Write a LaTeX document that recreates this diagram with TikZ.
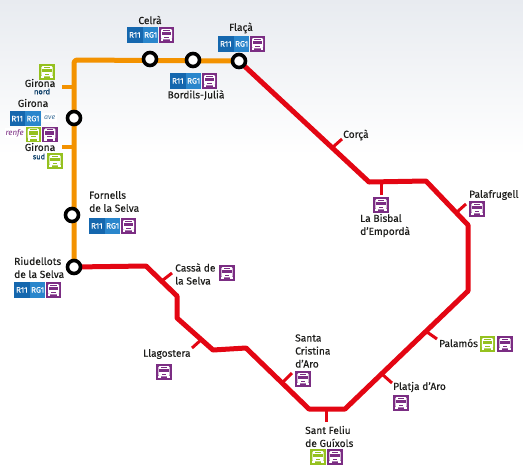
\documentclass[tikz,border=0pt]{standalone}
\usepackage{fontspec}
\setmainfont{Fira Sans}
\usetikzlibrary{calc}
\definecolor{linered}{HTML}{E30613}
\definecolor{lineorange}{HTML}{F39200}
\definecolor{busgreen}{HTML}{95C11F}
\definecolor{buspurple}{HTML}{7B2D83}
\definecolor{rblue}{HTML}{1567AE}
\definecolor{gblue}{HTML}{2A86CC}
\definecolor{topgrey}{HTML}{E8EBF0}
\definecolor{txt}{HTML}{1D1D1B}
\tikzset{
  x=1pt,y=-1pt,
  redline/.style={draw=linered,line width=5pt,line join=round},
  orangeline/.style={draw=lineorange,line width=5pt,line join=round},
  redtick/.style={draw=linered,line width=3pt},
  orangetick/.style={draw=lineorange,line width=3.6pt},
  station/.style={circle,draw=black,fill=white,line width=3.6pt,minimum size=13pt,inner sep=0pt},
  lab/.style={inner sep=0pt,anchor=west,font=\fontsize{10.2}{13}\selectfont\addfontfeature{FakeBold=0.3},text=txt},
  labc/.style={lab,anchor=center},
  small/.style={inner sep=0pt,font=\fontsize{7.5}{8}\selectfont\addfontfeature{FakeBold=0.6},text=txt},
  badge/.style={inner sep=0pt,minimum width=15.4pt,minimum height=15.4pt,anchor=north west,text=white,font=\fontsize{8}{8}\selectfont\addfontfeature{FakeBold=0.3}},
  r11badge/.style={badge,fill=rblue},
  rg1badge/.style={badge,fill=gblue},
}
% #1 name, #2 x, #3 y, #4 colour
\newcommand{\busicon}[4]{%
  \node[inner sep=0pt,minimum width=15.6pt,minimum height=15.6pt,anchor=north west,fill=#4] (#1) at (#2,#3) {};
  \fill[white,rounded corners=1.2pt] ($(#1.center)+(-5.6,-6)$) rectangle ($(#1.center)+(5.6,4.4)$);
  \fill[#4] ($(#1.center)+(-4.6,-3)$) rectangle ($(#1.center)+(4.6,0.4)$);
  \fill[#4] ($(#1.center)+(-3.2,-5)$) rectangle ($(#1.center)+(3.2,-4.2)$);
  \fill[#4] ($(#1.center)+(-2.4,1.8)$) rectangle ($(#1.center)+(2.4,3)$);
  \fill[white] ($(#1.center)+(-5.6,4)$) rectangle ($(#1.center)+(-3.2,6.2)$);
  \fill[white] ($(#1.center)+(3.2,4)$) rectangle ($(#1.center)+(5.6,6.2)$);
}
% #1 name, #2 x, #3 y : R11, RG1 and purple bus in a row
\newcommand{\lineset}[3]{%
  \node[r11badge] (#1a) at (#2,#3) {R11};
  \node[rg1badge] (#1b) at (#2+15.8,#3) {RG1};
  \busicon{#1c}{#2+31.6}{#3}{buspurple}
}
\begin{document}
\begin{tikzpicture}
\useasboundingbox (0,0) rectangle (523,467);
\shade[top color=topgrey,bottom color=white] (0,0) rectangle (523,155);

% route vertices
\coordinate (ocorner) at (74,60);
\coordinate (r1) at (146,266);
\coordinate (r2) at (177,296);
\coordinate (r3) at (177,318);
\coordinate (r4) at (213,350);
\coordinate (r5) at (246,348);
\coordinate (r6) at (309,409);
\coordinate (r7) at (345,409);
\coordinate (r8) at (468,291);
\coordinate (r9) at (468,225);
\coordinate (r10) at (426,181);
\coordinate (r11) at (369,182);

% stations
\coordinate (flaca) at (239,61);
\coordinate (bordils) at (193,60);
\coordinate (celra) at (150,59);
\coordinate (girona) at (74,118);
\coordinate (fornells) at (72,215);
\coordinate (riudellots) at (74,267);

\draw[orangeline,rounded corners=3pt] (riudellots) -- (ocorner) -- (flaca);
\draw[redline] (riudellots) -- (r1) -- (r2) -- (r3) -- (r4) -- (r5) -- (r6) -- (r7) -- (r8) -- (r9) -- (r10) -- (r11) -- (flaca);

% ticks
\coordinate (tn) at (62,87);  \coordinate (tna) at (74,87);
\coordinate (ts) at (62,147); \coordinate (tsa) at (74,147);
\draw[orangetick] (tn) -- (tna);
\draw[orangetick] (ts) -- (tsa);
\foreach \a/\b in {{333,147}/{342,139},{381,182}/{381,195},{457,212}/{466,204},{427,332}/{437,339},{383,375}/{392,383},{326,409}/{326,422},{282,383}/{292,373},{202,339}/{192,348},{163,280}/{172,273}}
  \draw[redtick] (\a) -- (\b);

% station rings
\node[station] (nflaca) at (flaca) {};
\node[station] (nbordils) at (bordils) {};
\node[station] (ncelra) at (celra) {};
\node[station] (ngirona) at (girona) {};
\node[station] (nfornells) at (fornells) {};
\node[station] (nriudellots) at (riudellots) {};

% labels and icons
\node[labc] (lcelra) at (150,20) {Celrà};
\lineset{celraset}{127}{27}
\node[labc] (lflaca) at (241,28) {Flaçà};
\lineset{flacaset}{218}{36}
\lineset{bordset}{170}{73}
\node[labc] (lbord) at (196,95) {Bordils-Julià};

\busicon{gnbus}{39}{64}{busgreen}
\node[labc] (lgn) at (40,83) {Girona};
\node[small,text=rblue!60!black] (lnord) at (42,91.5) {nord};
\node[labc] (lg) at (33,103) {Girona};
\node[r11badge] (ga) at (9.3,110.7) {R11};
\node[rg1badge] (gb) at (25.1,110.7) {RG1};
\node[inner sep=0pt,minimum width=15pt,minimum height=9pt,anchor=north west,fill=white,text=rblue!60!gray,font=\fontsize{7}{7}\itshape\selectfont] (gave) at (42,113) {ave};
\node[inner sep=0pt,minimum width=19pt,minimum height=10pt,anchor=north west,fill=white,text=buspurple,font=\fontsize{8}{8}\itshape\selectfont] (grenfe) at (5,128) {renfe};
\busicon{gbusg}{25.3}{126.4}{busgreen}
\busicon{gbusp}{41.8}{126.4}{buspurple}
\node[labc] (lgs) at (40,147) {Girona};
\node[small,text=rblue!60!black] (lsud) at (39,156.5) {sud};
\busicon{gsbus}{47}{153}{busgreen}

\node[lab,align=left] (lforn) at (89,201.5) {Fornells\\de la Selva};
\lineset{fornset}{89}{218}
\node[lab,align=left] (lriud) at (14,267.5) {Riudellots\\de la Selva};
\lineset{riudset}{14}{282}

\node[lab,align=left] (lcassa) at (175,274) {Cassà de\\la Selva};
\busicon{cassabus}{219}{265}{buspurple}
\node[lab] (lcorca) at (343,135) {Corçà};
\busicon{bisbalbus}{373}{197}{buspurple}
\node[lab,align=left] (lbisbal) at (360,225.5) {La Bisbal\\d'Empordà};
\node[lab] (lpalaf) at (469,195) {Palafrugell};
\busicon{palafbus}{469}{201}{buspurple}
\node[lab] (lpalam) at (439,343) {Palamós};
\busicon{palambusg}{479.5}{336}{busgreen}
\busicon{palambusp}{497}{336}{buspurple}
\node[lab] (lplatja) at (393,387) {Platja d'Aro};
\busicon{platjabus}{393}{395}{buspurple}
\node[lab,align=left] (lsanta) at (295,351) {Santa\\Cristina\\d'Aro};
\busicon{santabus}{295}{371}{buspurple}
\node[lab] (lllag) at (143,354) {Llagostera};
\busicon{llagbus}{156}{364}{buspurple}
\node[lab,align=left] (lfeliu) at (305,436.5) {Sant Feliu\\de Guíxols};
\busicon{feliubusg}{310}{449}{busgreen}
\busicon{feliubusp}{327}{449}{buspurple}
\end{tikzpicture}
\end{document}
